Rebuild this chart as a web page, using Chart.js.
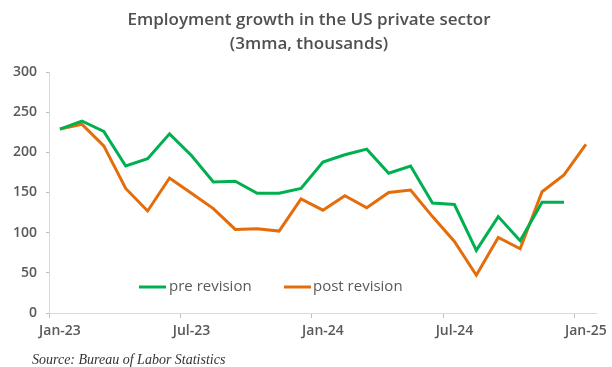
<!DOCTYPE html>
<html>
<head>
<meta charset="utf-8">
<script src="https://cdn.jsdelivr.net/npm/chart.js@4.4.1/dist/chart.umd.min.js"></script>
<style>
  html, body { margin: 0; padding: 0; background: #ffffff; }
  #wrap { position: relative; width: 612px; height: 367px; }
  canvas { display: block; }
</style>
</head>
<body>
<div id="wrap"><canvas id="c" width="612" height="367"></canvas></div>
<script>
const categories = ["Jan-23","Feb-23","Mar-23","Apr-23","May-23","Jun-23","Jul-23","Aug-23","Sep-23","Oct-23","Nov-23","Dec-23",
  "Jan-24","Feb-24","Mar-24","Apr-24","May-24","Jun-24","Jul-24","Aug-24","Sep-24","Oct-24","Nov-24","Dec-24","Jan-25"];
const preRevision = [229,239,226,183,192,223,196,163,164,149,149,155,188,197,204,174,183,137,135,78,120,90,138,138];
const postRevision = [229,235,208,155,127,168,149,130,104,105,102,142,128,146,131,150,153,120,89,47,94,80,151,172,210];
const yTicks = [0,50,100,150,200,250,300];
const titleLines = ["Employment growth in the US private sector", "(3mma, thousands)"];
const sourceText = "Source: Bureau of Labor Statistics";

const GREEN = '#00b050';
const ORANGE = '#e46c0a';
const TXT = '#595959';

const decor = {
  id: 'decor',
  afterDraw(chart) {
    const ctx = chart.ctx;
    ctx.save();
    // title
    ctx.fillStyle = '#505050';
    ctx.textAlign = 'center';
    ctx.textBaseline = 'middle';
    ctx.font = '600 17px "Open Sans"';
    ctx.fillText(titleLines[0], 309, 20);
    ctx.fillText(titleLines[1], 309, 44);
    // legend
    const items = chart.data.datasets.map(d => ({ label: d.label, color: d.borderColor }));
    const pos = [[139, 166, 169], [284, 311, 313]];
    ctx.textAlign = 'left';
    ctx.font = '15px "Open Sans"';
    items.forEach((it, i) => {
      const p = pos[i];
      ctx.strokeStyle = it.color;
      ctx.lineWidth = 3;
      ctx.beginPath();
      ctx.moveTo(p[0], 287);
      ctx.lineTo(p[1], 287);
      ctx.stroke();
      ctx.fillStyle = TXT;
      ctx.fillText(it.label, p[2], 287);
    });
    // source
    ctx.fillStyle = '#333333';
    ctx.font = 'italic 14px "Liberation Serif"';
    ctx.textBaseline = 'alphabetic';
    ctx.fillText(sourceText, 32, 364);
    ctx.restore();
  }
};

new Chart(document.getElementById('c'), {
  type: 'line',
  data: {
    labels: categories,
    datasets: [
      { label: 'pre revision', data: preRevision, borderColor: GREEN, backgroundColor: GREEN,
        borderWidth: 3, pointRadius: 0, tension: 0, fill: false },
      { label: 'post revision', data: postRevision, borderColor: ORANGE, backgroundColor: ORANGE,
        borderWidth: 3, pointRadius: 0, tension: 0, fill: false }
    ]
  },
  options: {
    responsive: false,
    animation: false,
    devicePixelRatio: 1,
    layout: { padding: { left: 0, right: 12, top: 72, bottom: 24 } },
    plugins: { legend: { display: false }, title: { display: false }, tooltip: { enabled: false } },
    scales: {
      x: {
        type: 'category',
        offset: true,
        afterFit(s) { s.height = 30; },
        grid: {
          offset: true,
          drawOnChartArea: false,
          drawTicks: true,
          tickLength: 5,
          tickColor: (c) => (c.index % 6 === 0 ? '#bfbfbf' : 'rgba(0,0,0,0)'),
          color: 'rgba(0,0,0,0)'
        },
        border: { display: true, color: '#d9d9d9', width: 1 },
        ticks: {
          autoSkip: false,
          maxRotation: 0,
          minRotation: 0,
          padding: 5,
          color: TXT,
          font: { family: 'Open Sans', size: 14, weight: '600' },
          callback(v, i) { return i % 6 === 0 ? categories[i] : ''; }
        }
      },
      y: {
        min: 0,
        max: 300,
        afterFit(s) { s.width = 49; },
        afterBuildTicks(s) { s.ticks = yTicks.map(v => ({ value: v })); },
        grid: {
          drawOnChartArea: false,
          drawTicks: true,
          tickLength: 3,
          tickColor: '#bfbfbf'
        },
        border: { display: true, color: '#d9d9d9', width: 1 },
        ticks: {
          padding: 9,
          color: TXT,
          font: { family: 'Open Sans', size: 14, weight: '600' }
        }
      }
    }
  },
  plugins: [decor]
});
</script>
</body>
</html>
